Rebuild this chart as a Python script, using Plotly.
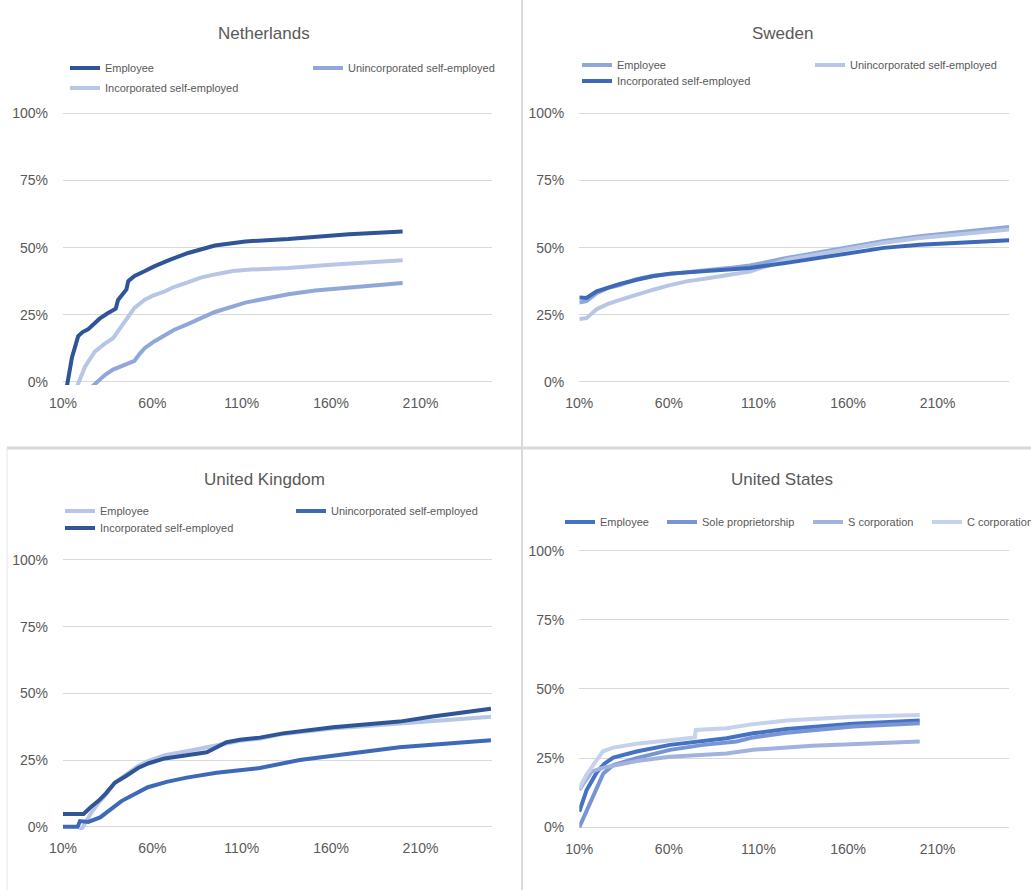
import plotly.graph_objects as go

# ---------------------------------------------------------------
# Data: x = earnings relative to median (%), y = share of income (%)
# ---------------------------------------------------------------

# Netherlands
nl_emp_x = [10, 15, 18.5, 21, 24, 27, 30.5, 35, 39.5, 40.8, 43.5, 45.5, 46.5, 50, 55, 61, 70, 80, 95, 112, 136, 151, 170, 200]
nl_emp_y = [-10, 9, 17, 18.5, 19.5, 21.5, 23.5, 25.5, 27.2, 30.5, 33, 34.4, 37.5, 39.4, 41, 43, 45.5, 48, 50.8, 52.3, 53.2, 54, 55, 56]
nl_uninc_x = [26, 33.4, 38, 42.7, 47, 50, 53, 55.7, 61, 66.9, 72, 79.8, 87, 95, 112, 136, 151, 170, 200]
nl_uninc_y = [-2, 2.5, 4.5, 5.8, 7, 7.8, 10.5, 12.5, 15, 17.3, 19.3, 21.5, 23.7, 26, 29.5, 32.6, 34, 35.2, 36.8]
nl_inc_x = [16.5, 22.3, 27.8, 33, 38, 42.7, 50, 55.7, 60, 66.9, 72, 79.8, 87, 95, 105, 115, 136, 160, 200]
nl_inc_y = [-4, 5.6, 11.2, 14, 16.2, 20.6, 27.5, 30.6, 32, 33.7, 35.3, 37, 38.8, 40, 41.3, 41.8, 42.4, 43.6, 45.3]

# Sweden
se_emp_x = [10, 14, 19.7, 26, 32.7, 42, 51, 60.6, 79.2, 95, 105.2, 125.7, 145, 162.9, 180, 200, 225, 250]
se_emp_y = [29.5, 30, 33, 35, 36, 38.2, 39.5, 40.3, 41.5, 42.5, 43.3, 46.1, 48.5, 50.5, 52.5, 54.2, 56, 57.7]
se_uninc_x = [10, 14, 19.7, 26, 32.7, 42, 51.3, 60, 69.9, 79, 88.5, 105.2, 125.7, 145, 162.9, 180, 200, 225, 250]
se_uninc_y = [23.4, 23.7, 27, 29, 30.5, 32.5, 34.3, 35.9, 37.4, 38.3, 39.3, 41.1, 45.5, 47.8, 49.9, 51.8, 53.6, 55.3, 56.7]
se_inc_x = [10, 14, 19.7, 26, 32.7, 42, 51, 60.6, 79.2, 95, 105.2, 125.7, 145, 162.9, 180, 200, 225, 250]
se_inc_y = [31.4, 31.2, 33.7, 35.2, 36.5, 38, 39.3, 40.3, 41.1, 41.7, 42.4, 44.3, 46.4, 48.4, 49.9, 51.1, 52, 52.7]

# United Kingdom
uk_emp_x = [18.5, 22, 25.8, 29.7, 33.4, 39, 45.7, 52, 58, 66.9, 79.2, 90.4, 101.5, 109, 120.1, 133.1, 161, 198.2, 216.8, 249.4]
uk_emp_y = [-3, 1, 5.2, 8.8, 11.5, 16.5, 19.8, 22.8, 24.7, 26.8, 28.3, 29.8, 31.5, 32.2, 33, 34.8, 36.8, 38.6, 39.8, 41.2]
uk_uninc_x = [10, 18.2, 19.5, 24.1, 30.8, 38.3, 42.7, 49.4, 57.5, 68, 79.2, 95.9, 109, 120.1, 142.4, 161, 198.2, 249.4]
uk_uninc_y = [0, 0, 2.1, 1.8, 3.5, 7.5, 9.6, 12, 14.8, 16.8, 18.4, 20.2, 21.2, 22, 25, 26.6, 29.8, 32.4]
uk_inc_x = [10, 21.5, 25.3, 29.7, 34, 39, 45.7, 52, 58, 66.9, 79.2, 90.4, 101.5, 109, 120.1, 133.1, 161, 198.2, 216.8, 249.4]
uk_inc_y = [4.8, 4.8, 7.2, 9.6, 12.5, 16.5, 19.2, 22, 23.8, 25.6, 26.8, 27.9, 31.7, 32.6, 33.4, 35, 37.3, 39.4, 41.3, 44.2]

# United States
us_emp_x = [10, 14.1, 19.7, 24, 29, 42, 60.6, 79.2, 92.2, 107.1, 125.7, 162.9, 200]
us_emp_y = [5.7, 13.5, 19.8, 23, 25.2, 27.4, 29.8, 31.3, 32.2, 34, 35.5, 37.4, 38.6]
us_sole_x = [10, 16, 19.7, 23.4, 29, 42, 60.6, 79.2, 97.8, 107.1, 125.7, 162.9, 200]
us_sole_y = [0, 8.8, 14.5, 19.5, 22.5, 25, 28, 29.8, 31, 32.5, 34.2, 36.4, 37.6]
us_s_x = [10, 16.9, 23, 29, 42, 60.6, 79.2, 92.2, 107.1, 140, 200]
us_s_y = [13.5, 20.1, 21.5, 22.4, 24, 25.5, 26.2, 26.7, 28, 29.5, 31]
us_c_x = [10, 14, 19.7, 23.2, 29, 42, 60.6, 74.5, 75, 92.2, 107.1, 125.7, 162.9, 200]
us_c_y = [14.1, 19, 24.3, 27.5, 28.8, 30.2, 31.5, 32.5, 35.2, 35.8, 37.3, 38.6, 40, 40.6]

x_ticks = [10, 60, 110, 160, 210]
x_tick_labels = ["10%", "60%", "110%", "160%", "210%"]
y_ticks = [0, 25, 50, 75, 100]
y_tick_labels = ["0%", "25%", "50%", "75%", "100%"]

# ---------------------------------------------------------------
# Styling
# ---------------------------------------------------------------
W, H = 1031, 890
FONT = "Liberation Sans, Arial, sans-serif"
TXT = "#595959"
GRID = "#D9D9D9"
LW = 4

NAVY = "#2F5597"
BLUE = "#3E68B8"
MED = "#8FA7D9"
LIGHT = "#B8C6E6"
US_EMP = "#4472C4"
US_SOLE = "#7894D2"
US_S = "#A0B3DF"
US_C = "#C6D1EB"


def px_x(v):
    return v / W


def px_y(v):
    return 1 - v / H


fig = go.Figure()


def add(x, y, name, color, ax, legend, lwidth=None):
    fig.add_trace(go.Scatter(
        x=x, y=y, name=name, mode="lines",
        line=dict(color=color, width=LW),
        xaxis="x" + ax, yaxis="y" + ax,
        legend=legend, legendwidth=lwidth,
        hoverinfo="skip",
    ))


# Netherlands
add(nl_emp_x, nl_emp_y, "Employee", NAVY, "", "legend")
add(nl_uninc_x, nl_uninc_y, "Unincorporated self-employed", MED, "", "legend")
add(nl_inc_x, nl_inc_y, "Incorporated self-employed", LIGHT, "", "legend2")
# Sweden
add(se_emp_x, se_emp_y, "Employee", MED, "2", "legend3")
add(se_uninc_x, se_uninc_y, "Unincorporated self-employed", LIGHT, "2", "legend3")
add(se_inc_x, se_inc_y, "Incorporated self-employed", BLUE, "2", "legend4")
# United Kingdom
add(uk_emp_x, uk_emp_y, "Employee", LIGHT, "3", "legend5")
add(uk_uninc_x, uk_uninc_y, "Unincorporated self-employed", BLUE, "3", "legend5")
add(uk_inc_x, uk_inc_y, "Incorporated self-employed", NAVY, "3", "legend6")
# United States
add(us_emp_x, us_emp_y, "Employee", US_EMP, "4", "legend7", 57)
add(us_sole_x, us_sole_y, "Sole proprietorship", US_SOLE, "4", "legend7", 101)
add(us_s_x, us_s_y, "S corporation", US_S, "4", "legend7", 74)
add(us_c_x, us_c_y, "C corporation", US_C, "4", "legend7", 90)

# Plot-area geometry (pixels): left, right, y of 0 %, px per 1 %
areas = {
    "": (63, 492, 381.7, 2.682),
    "2": (579.3, 1009.3, 381.7, 2.682),
    "3": (63, 492, 826.7, 2.667),
    "4": (579.3, 1009.3, 827.3, 2.766),
}
Y_LO, Y_HI = -1.2, 100.5

layout_axes = {}
for k, (l, r, y0, s) in areas.items():
    bottom = y0 - Y_LO * s
    top = y0 - Y_HI * s
    layout_axes["xaxis" + k] = dict(
        domain=[px_x(l), px_x(r)], range=[10, 250], anchor="y" + k,
        tickmode="array", tickvals=x_ticks, ticktext=x_tick_labels,
        showgrid=False, zeroline=False,
        showline=False, ticks="", ticklabelstandoff=8,
        tickfont=dict(family=FONT, size=14, color=TXT), fixedrange=True,
    )
    layout_axes["yaxis" + k] = dict(
        domain=[px_y(bottom), px_y(top)], range=[Y_LO, Y_HI], anchor="x" + k,
        tickmode="array", tickvals=y_ticks, ticktext=y_tick_labels,
        showgrid=True, gridcolor=GRID,
        gridwidth=1, zeroline=False, showline=False, ticks="",
        ticklabelstandoff=14,
        tickfont=dict(family=FONT, size=14, color=TXT), fixedrange=True,
    )


def legend_at(x_px, y_px, entrywidth=None):
    d = dict(
        x=px_x(x_px), y=px_y(y_px), xref="paper", yref="paper",
        xanchor="left", yanchor="middle", orientation="h",
        bgcolor="rgba(0,0,0,0)", borderwidth=0,
        font=dict(family=FONT, size=11, color=TXT),
        traceorder="normal",
    )
    if entrywidth is not None:
        d["entrywidth"] = entrywidth
    return d


titles = [("Netherlands", 264, 33), ("Sweden", 782, 33),
          ("United Kingdom", 264, 479), ("United States", 782, 479)]
annotations = [
    dict(text=t, x=px_x(x), y=px_y(y), xref="paper", yref="paper",
         xanchor="center", yanchor="middle", showarrow=False,
         font=dict(family=FONT, size=17, color=TXT))
    for t, x, y in titles
]

shapes = [
    dict(type="line", xref="paper", yref="paper", x0=px_x(7), x1=1,
         y0=px_y(448), y1=px_y(448), line=dict(color="#D9D9D9", width=3)),
    dict(type="line", xref="paper", yref="paper", x0=px_x(522), x1=px_x(522),
         y0=0, y1=1, line=dict(color="#DADADA", width=2)),
    dict(type="line", xref="paper", yref="paper", x0=px_x(7), x1=px_x(7),
         y0=0, y1=px_y(448), line=dict(color="#E6E6E6", width=1)),
]

fig.update_layout(
    width=W, height=H,
    margin=dict(l=0, r=0, t=0, b=0, autoexpand=False),
    paper_bgcolor="white", plot_bgcolor="white",
    font=dict(family=FONT, color=TXT),
    annotations=annotations, shapes=shapes,
    legend=legend_at(65, 68, 198),
    legend2=legend_at(65, 88),
    legend3=legend_at(577, 65, 188),
    legend4=legend_at(577, 81),
    legend5=legend_at(60, 511, 186),
    legend6=legend_at(60, 528),
    legend7=legend_at(560, 522),
    **layout_axes,
)

fig.write_html("out.html", config={"displayModeBar": False})
